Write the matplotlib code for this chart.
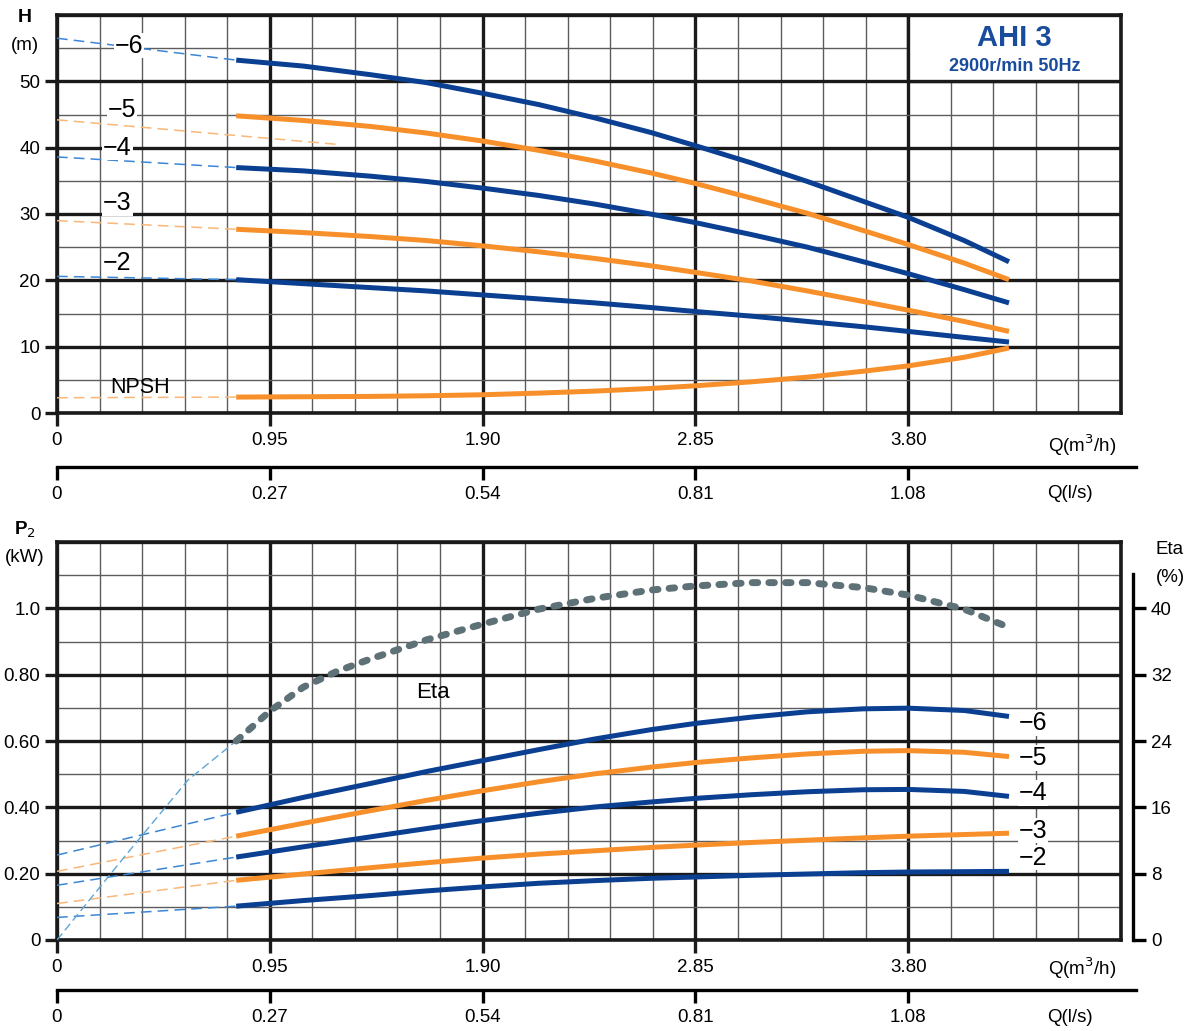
import matplotlib
matplotlib.use("Agg")
import matplotlib.pyplot as plt
import numpy as np

plt.rcParams["font.family"] = ["Liberation Sans", "DejaVu Sans"]

# ---- data ----
Q = [0.80, 1.10, 1.40, 1.65, 1.90, 2.15, 2.40, 2.65, 2.85,
     3.10, 3.35, 3.60, 3.80, 4.05, 4.25]                  # m3/h, solid part
Q_EXT = [0.0, 0.80]                                       # dashed lead-in

H6 = [53.2, 52.3, 51.0, 49.8, 48.2, 46.5, 44.5, 42.3, 40.3,
      37.7, 34.9, 31.9, 29.5, 26.0, 22.8]
H5 = [44.8, 44.1, 43.2, 42.2, 41.0, 39.6, 38.0, 36.2, 34.6,
      32.4, 30.1, 27.5, 25.4, 22.6, 20.1]
H4 = [37.0, 36.5, 35.7, 34.9, 33.9, 32.8, 31.5, 30.0, 28.7,
      26.9, 25.0, 22.8, 21.0, 18.6, 16.6]
H3 = [27.7, 27.2, 26.6, 26.0, 25.2, 24.3, 23.3, 22.2, 21.2,
      19.9, 18.4, 16.8, 15.5, 13.8, 12.3]
H2 = [20.1, 19.5, 18.9, 18.4, 17.8, 17.2, 16.6, 15.9, 15.3,
      14.6, 13.8, 13.0, 12.3, 11.4, 10.7]
NPSH = [2.4, 2.45, 2.5, 2.6, 2.75, 3.0, 3.3, 3.7, 4.1,
        4.7, 5.4, 6.3, 7.1, 8.4, 9.8]
H_EXT = {"-6": [56.5, 53.2], "-4": [38.6, 37.0], "-3": [29.0, 27.7],
         "-2": [20.6, 20.1], "NPSH": [2.3, 2.4]}
H5_EXT_Q = [0.0, 1.25]
H5_EXT = [44.2, 40.5]

P6 = [0.385, 0.430, 0.472, 0.508, 0.541, 0.574, 0.606, 0.634, 0.653,
      0.672, 0.688, 0.697, 0.699, 0.692, 0.674]
P5 = [0.313, 0.352, 0.390, 0.421, 0.450, 0.477, 0.501, 0.521, 0.535,
      0.549, 0.561, 0.569, 0.571, 0.566, 0.553]
P4 = [0.250, 0.281, 0.311, 0.336, 0.360, 0.382, 0.401, 0.416, 0.427,
      0.438, 0.447, 0.453, 0.454, 0.448, 0.433]
P3 = [0.180, 0.199, 0.218, 0.233, 0.247, 0.259, 0.269, 0.279, 0.286,
      0.294, 0.301, 0.308, 0.313, 0.318, 0.322]
P2 = [0.102, 0.119, 0.134, 0.148, 0.160, 0.171, 0.179, 0.186, 0.190,
      0.195, 0.199, 0.203, 0.205, 0.206, 0.207]
P_EXT = {"-6": [0.256, 0.385], "-5": [0.207, 0.313], "-4": [0.165, 0.250],
         "-3": [0.110, 0.180], "-2": [0.068, 0.102]}

Q_ETA = [0.80, 0.95, 1.10, 1.25, 1.40, 1.65, 1.90, 2.15, 2.40, 2.65, 2.85,
         3.10, 3.35, 3.60, 3.80, 4.05, 4.25]
ETA = [24.0, 27.6, 30.5, 32.4, 33.9, 36.2, 38.1, 39.9, 41.2, 42.2, 42.7,
       43.1, 43.1, 42.5, 41.6, 39.9, 37.7]
Q_ETA_EXT = [0.0, 0.30, 0.585, 0.80]
ETA_EXT = [0.0, 10.0, 19.3, 24.0]

Q_TICKS = [0, 0.95, 1.90, 2.85, 3.80]
Q_LABELS = ["0", "0.95", "1.90", "2.85", "3.80"]
LS_LABELS = ["0", "0.27", "0.54", "0.81", "1.08"]
H_TICKS = [0, 10, 20, 30, 40, 50]
P_TICKS = [0, 0.2, 0.4, 0.6, 0.8, 1.0]
P_LABELS = ["0", "0.20", "0.40", "0.60", "0.80", "1.0"]
ETA_TICKS = [0, 8, 16, 24, 32, 40]

BLUE = "#0b3f92"
ORANGE = "#f7902a"
BLUE_LIGHT = "#3c86d6"
ORANGE_LIGHT = "#f9b878"
GRAY = "#5e7177"
TITLE_BLUE = "#1a4c9e"

W, H = 1194, 1031
QMAX = 4.75
FS = 13.5


def px(x0, y0, x1, y1):
    # pixel box -> figure fraction [left, bottom, width, height]
    return [x0 / W, 1 - y1 / H, (x1 - x0) / W, (y1 - y0) / H]


def draw_grid(ax, ymax, ystep_minor, ystep_major):
    for x in np.arange(0, QMAX + 1e-6, 0.19):
        major = abs(x / 0.95 - round(x / 0.95)) < 1e-6
        ax.axvline(x, color="#1a1a1a" if major else "#5c5c5c",
                   lw=2.4 if major else 1.0, zorder=1)
    for y in np.arange(0, ymax + 1e-6, ystep_minor):
        major = abs(y / ystep_major - round(y / ystep_major)) < 1e-6
        ax.axhline(y, color="#1a1a1a" if major else "#5c5c5c",
                   lw=2.4 if major else 1.0, zorder=1)


def style_axis(ax, ymax, yticks, ylabels):
    ax.set_xlim(0, QMAX)
    ax.set_ylim(0, ymax)
    for s in ax.spines.values():
        s.set_linewidth(2.6)
        s.set_color("#1a1a1a")
    ax.set_xticks(Q_TICKS)
    ax.set_xticklabels(Q_LABELS)
    ax.set_yticks(yticks)
    ax.set_yticklabels(ylabels)
    ax.tick_params(axis="both", direction="out", length=9, width=2.4,
                   labelsize=FS, color="#1a1a1a", pad=3)
    ax.tick_params(axis="x", pad=5)


def ls_axis(fig, ypix):
    x1 = 1136
    ax = fig.add_axes(px(57, ypix, x1, ypix + 0.01))
    ax.set_xlim(0, QMAX * (x1 - 57) / (1121 - 57))
    ax.set_yticks([])
    for s in ["top", "left", "right"]:
        ax.spines[s].set_visible(False)
    ax.spines["bottom"].set_linewidth(2.4)
    ax.set_xticks(Q_TICKS)
    ax.set_xticklabels(LS_LABELS)
    ax.tick_params(axis="x", direction="out", length=9, width=2.4,
                   labelsize=FS, pad=5)
    ax.patch.set_alpha(0)
    return ax


fig = plt.figure(figsize=(W / 100, H / 100), dpi=100)

# ---------------- top: head ----------------
ax1 = fig.add_axes(px(57, 15, 1121, 413))
draw_grid(ax1, 60, 5, 10)
style_axis(ax1, 60, H_TICKS, [str(t) for t in H_TICKS])

ax1.add_patch(plt.Rectangle((3.80, 50), QMAX - 3.80, 10, facecolor="white",
                            edgecolor="#1a1a1a", lw=2.4, zorder=2))
ax1.text(4.275, 56.5, "AHI 3", ha="center", va="center", fontsize=21,
         fontweight="bold", color=TITLE_BLUE, zorder=3)
ax1.text(4.275, 52.3, "2900r/min 50Hz", ha="center", va="center",
         fontsize=13, fontweight="bold", color=TITLE_BLUE, zorder=3)

ext_style = dict(lw=1.1, dashes=(7, 4), zorder=3)
for key, col in [("-6", BLUE_LIGHT), ("-4", BLUE_LIGHT), ("-3", ORANGE_LIGHT),
                 ("-2", BLUE_LIGHT), ("NPSH", ORANGE_LIGHT)]:
    ax1.plot(Q_EXT, H_EXT[key], color=col, **ext_style)
ax1.plot(H5_EXT_Q, H5_EXT, color=ORANGE_LIGHT, **ext_style)

for y, col in [(H6, BLUE), (H5, ORANGE), (H4, BLUE), (H3, ORANGE),
               (H2, BLUE), (NPSH, ORANGE)]:
    ax1.plot(Q, y, color=col, lw=3.6, solid_capstyle="butt", zorder=4)

lbl_box = dict(facecolor="white", edgecolor="none", pad=0.5)
for txt, xq, yv in [("\u22126", 0.32, 55.4), ("\u22125", 0.29, 45.7),
                    ("\u22124", 0.27, 40.0), ("\u22123", 0.27, 31.6),
                    ("\u22122", 0.27, 22.6)]:
    ax1.text(xq, yv, txt, fontsize=18, ha="center", va="center",
             bbox=lbl_box, zorder=5)
ax1.text(0.37, 3.8, "NPSH", fontsize=15.5, ha="center", va="center", zorder=5)

fig.text(25 / W, 1 - 17 / H, "H", ha="center", va="center", fontsize=14,
         fontweight="bold")
fig.text(25 / W, 1 - 45 / H, "(m)", ha="center", va="center", fontsize=FS)
fig.text(1082 / W, 1 - 445 / H, "Q(m$^3$/h)", ha="center", va="center",
         fontsize=FS)
ls_axis(fig, 467)
fig.text(1070 / W, 1 - 493 / H, "Q(l/s)", ha="center", va="center",
         fontsize=FS)

# ---------------- bottom: power / efficiency ----------------
ax2 = fig.add_axes(px(57, 542, 1121, 940))
draw_grid(ax2, 1.2, 0.1, 0.2)
style_axis(ax2, 1.2, P_TICKS, P_LABELS)

for key, col in [("-6", BLUE_LIGHT), ("-5", ORANGE_LIGHT), ("-4", BLUE_LIGHT),
                 ("-3", ORANGE_LIGHT), ("-2", BLUE_LIGHT)]:
    ax2.plot(Q_EXT, P_EXT[key], color=col, **ext_style)
ETA_SCALE = 1.2 / 48
ax2.plot(Q_ETA_EXT, np.array(ETA_EXT) * ETA_SCALE, color="#5fa6d6", lw=1.0,
         dashes=(6, 3), zorder=3)
ax2.plot(Q_ETA, np.array(ETA) * ETA_SCALE, color=GRAY, lw=5.0,
         dashes=(0.8, 1.6), dash_capstyle="round", zorder=4)

for y, col in [(P6, BLUE), (P5, ORANGE), (P4, BLUE), (P3, ORANGE), (P2, BLUE)]:
    ax2.plot(Q, y, color=col, lw=3.6, solid_capstyle="butt", zorder=4)

for txt, yv in [("\u22126", 0.655), ("\u22125", 0.548), ("\u22124", 0.443),
                ("\u22123", 0.33), ("\u22122", 0.248)]:
    ax2.text(4.25 + 0.045, yv, txt, fontsize=18, ha="left", va="center",
             bbox=lbl_box, zorder=5)
ax2.text(1.68, 0.745, "Eta", fontsize=16, ha="center", va="center", zorder=5)

fig.text(25 / W, 1 - 530 / H, "P$_2$", ha="center", va="center", fontsize=FS,
         fontweight="bold")
fig.text(25 / W, 1 - 557 / H, "(kW)", ha="center", va="center", fontsize=FS)
fig.text(1082 / W, 1 - 968 / H, "Q(m$^3$/h)", ha="center", va="center",
         fontsize=FS)
ls_axis(fig, 990)
fig.text(1070 / W, 1 - 1018 / H, "Q(l/s)", ha="center", va="center",
         fontsize=FS)

# efficiency scale
ax3 = fig.add_axes(px(1133, 542, 1133.01, 940))
ax3.set_ylim(0, 48)
ax3.set_xticks([])
for s in ["top", "bottom", "left"]:
    ax3.spines[s].set_visible(False)
ax3.spines["right"].set_linewidth(2.4)
ax3.spines["right"].set_bounds(0, 44.2)
ax3.yaxis.tick_right()
ax3.set_yticks(ETA_TICKS)
ax3.tick_params(axis="y", direction="out", length=9, width=2.4,
                labelsize=FS, pad=4)
ax3.patch.set_alpha(0)
fig.text(1170 / W, 1 - 549 / H, "Eta", ha="center", va="center", fontsize=FS)
fig.text(1170 / W, 1 - 577 / H, "(%)", ha="center", va="center", fontsize=FS)

fig.savefig("out.png", dpi=100)
